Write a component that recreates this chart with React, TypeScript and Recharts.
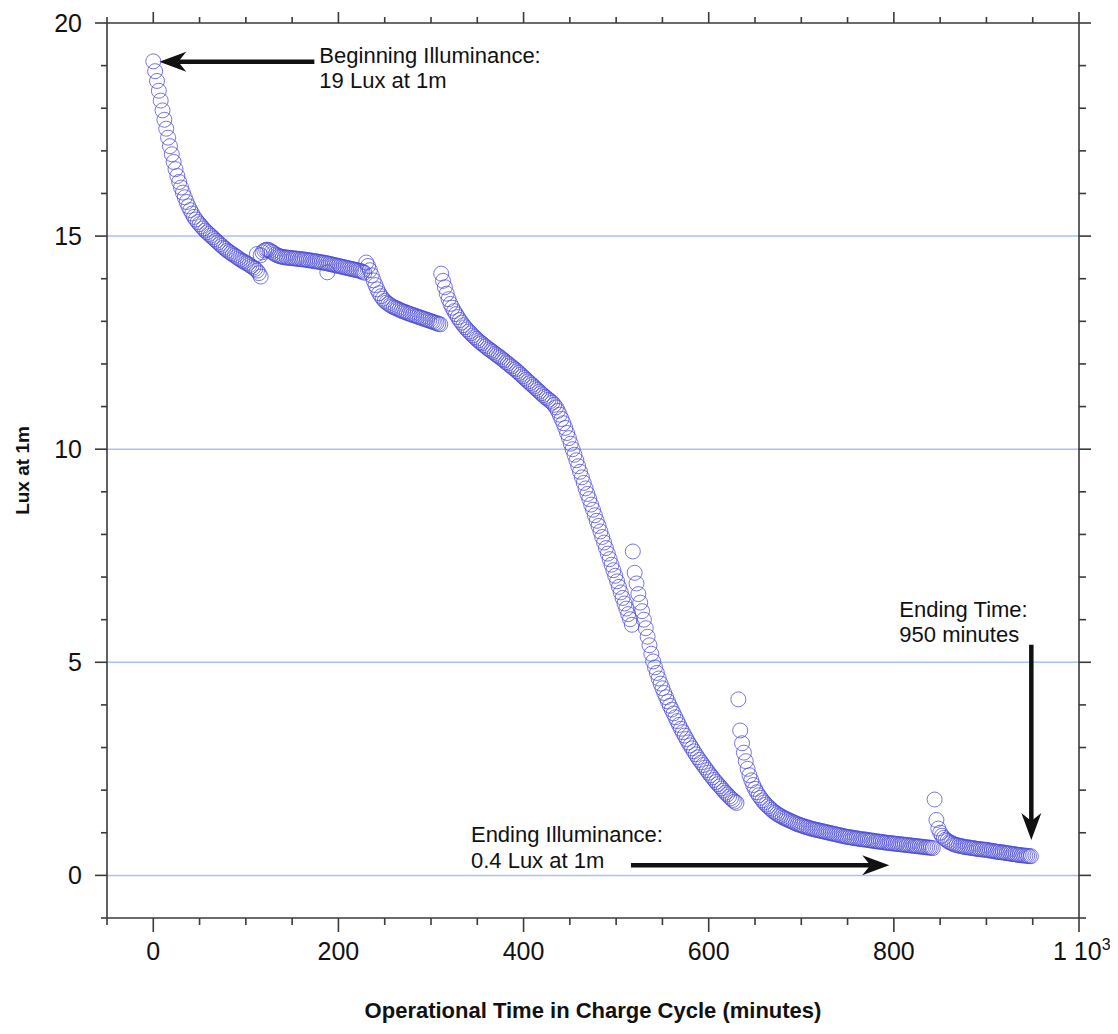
import React from "react";
import {
  ScatterChart,
  Scatter,
  XAxis,
  YAxis,
  ReferenceLine,
  Label,
} from "recharts";

// readings every 2 minutes, split where the lamp output jumps back up
const STEP = 2;

const fallA = [
  19.1, 18.87, 18.64, 18.41, 18.18, 17.95, 17.73, 17.52, 17.31, 17.11, 16.92,
  16.74, 16.57, 16.41, 16.27, 16.14, 16.02, 15.91, 15.8, 15.7, 15.61, 15.53,
  15.45, 15.39, 15.33, 15.28, 15.23, 15.18, 15.13, 15.09, 15.05, 15.01, 14.97,
  14.93, 14.89, 14.85, 14.81, 14.77, 14.73, 14.7, 14.66, 14.63, 14.6, 14.57,
  14.54, 14.51, 14.48, 14.45, 14.42, 14.4, 14.37, 14.35, 14.32, 14.29, 14.26,
  14.23, 14.19, 14.13,
];
const plateauB = [
  14.55, 14.62, 14.66, 14.68, 14.68, 14.66, 14.63, 14.6, 14.57, 14.55, 14.53,
  14.52, 14.51, 14.5, 14.5, 14.49, 14.49, 14.48, 14.48, 14.47, 14.47, 14.46,
  14.46, 14.45, 14.45, 14.44, 14.43, 14.43, 14.42, 14.41, 14.41, 14.4, 14.39,
  14.38, 14.38, 14.37, 14.36, 14.35, 14.34, 14.33, 14.32, 14.31, 14.3, 14.29,
  14.28, 14.27, 14.26, 14.25, 14.24, 14.23, 14.22, 14.21, 14.2, 14.19, 14.18,
  14.16, 14.14,
];
const stepC = [
  14.38, 14.3, 14.2, 14.08, 13.96, 13.85, 13.75, 13.66, 13.59, 13.53, 13.48,
  13.44, 13.41, 13.38, 13.35, 13.33, 13.31, 13.29, 13.27, 13.25, 13.23, 13.22,
  13.2, 13.18, 13.17, 13.15, 13.14, 13.12, 13.11, 13.09, 13.08, 13.06, 13.05,
  13.03, 13.02, 13.0, 12.99, 12.97, 12.96, 12.94, 12.93,
];
const dropD = [
  14.12, 13.95, 13.8, 13.65, 13.52, 13.41, 13.32, 13.24, 13.17, 13.1, 13.03,
  12.97, 12.91, 12.86, 12.81, 12.76, 12.72, 12.67, 12.63, 12.59, 12.55, 12.51,
  12.48, 12.44, 12.41, 12.37, 12.34, 12.31, 12.28, 12.24, 12.21, 12.18, 12.15,
  12.11, 12.08, 12.04, 12.01, 11.97, 11.94, 11.9, 11.87, 11.83, 11.79, 11.75,
  11.71, 11.67, 11.63, 11.59, 11.55, 11.51, 11.47, 11.43, 11.39, 11.35, 11.31,
  11.27, 11.23, 11.2, 11.16, 11.13, 11.09, 11.04, 10.98, 10.9, 10.81, 10.71,
  10.61, 10.5, 10.38, 10.26, 10.13, 10.0, 9.87, 9.74, 9.6, 9.47, 9.34, 9.21,
  9.08, 8.95, 8.83, 8.7, 8.58, 8.45, 8.32, 8.2, 8.07, 7.94, 7.81, 7.68, 7.55,
  7.42, 7.29, 7.16, 7.03, 6.9, 6.77, 6.64, 6.51, 6.38, 6.26, 6.13, 6.01, 5.88,
];
const tailE = [
  7.6, 7.1, 6.85, 6.6, 6.4, 6.2, 6.0, 5.8, 5.6, 5.4, 5.2, 5.02, 4.88, 4.75,
  4.62, 4.5, 4.39, 4.28, 4.18, 4.08, 3.98, 3.89, 3.8, 3.71, 3.62, 3.53, 3.44,
  3.36, 3.28, 3.2, 3.12, 3.05, 2.98, 2.91, 2.84, 2.77, 2.71, 2.65, 2.59, 2.53,
  2.47, 2.41, 2.35, 2.3, 2.24, 2.19, 2.14, 2.09, 2.04, 1.99, 1.94, 1.9, 1.85,
  1.81, 1.77, 1.73, 1.7,
];
const tailF = [
  4.13, 3.4, 3.1, 2.88, 2.68, 2.5, 2.35, 2.23, 2.12, 2.03, 1.95, 1.88, 1.82,
  1.76, 1.71, 1.66, 1.62, 1.58, 1.54, 1.5, 1.47, 1.44, 1.41, 1.39, 1.36, 1.34,
  1.32, 1.3, 1.28, 1.26, 1.24, 1.22, 1.2, 1.19, 1.17, 1.16, 1.14, 1.13, 1.12,
  1.1, 1.09, 1.08, 1.07, 1.06, 1.05, 1.04, 1.03, 1.02, 1.01, 1.0, 0.99, 0.98,
  0.97, 0.96, 0.95, 0.94, 0.93, 0.92, 0.91, 0.9, 0.9, 0.89, 0.88, 0.87, 0.87,
  0.86, 0.85, 0.85, 0.84, 0.84, 0.83, 0.82, 0.82, 0.81, 0.8, 0.8, 0.79, 0.79,
  0.78, 0.77, 0.77, 0.76, 0.76, 0.75, 0.75, 0.74, 0.74, 0.73, 0.73, 0.72, 0.72,
  0.71, 0.71, 0.7, 0.7, 0.69, 0.69, 0.68, 0.68, 0.67, 0.67, 0.66, 0.66, 0.65,
  0.65, 0.64,
];
const tailG = [
  1.78, 1.3, 1.1, 1.0, 0.93, 0.88, 0.84, 0.81, 0.78, 0.76, 0.74, 0.72, 0.71,
  0.7, 0.69, 0.68, 0.67, 0.66, 0.66, 0.65, 0.64, 0.64, 0.63, 0.62, 0.62, 0.61,
  0.61, 0.6, 0.6, 0.59, 0.58, 0.58, 0.57, 0.56, 0.55, 0.55, 0.54, 0.54, 0.53,
  0.52, 0.52, 0.51, 0.5, 0.5, 0.49, 0.48, 0.48, 0.47, 0.47, 0.46, 0.46, 0.45,
  0.45,
];
const segmentStarts = [0, 116, 230, 311, 518, 632, 844];
const segmentValues = [fallA, plateauB, stepC, dropD, tailE, tailF, tailG];

// a few stray readings
const strayMinutes = [112, 116, 188];
const strayLux = [14.58, 14.05, 14.15];

const xTicks = [
  -50, 0, 50, 100, 150, 200, 250, 300, 350, 400, 450, 500, 550, 600, 650, 700,
  750, 800, 850, 900, 950, 1000,
];
const xLabelTicks = [0, 200, 400, 600, 800, 1000];
const yTicks = [
  -1, 0, 1, 2, 3, 4, 5, 6, 7, 8, 9, 10, 11, 12, 13, 14, 15, 16, 17, 18, 19, 20,
];
const yLabelTicks = [0, 5, 10, 15, 20];
const gridValues = [0, 5, 10, 15];

const data: { x: number; y: number }[] = [];
segmentValues.forEach((vals, s) => {
  vals.forEach((v, i) => data.push({ x: segmentStarts[s] + i * STEP, y: v }));
});
strayMinutes.forEach((m, i) => data.push({ x: m, y: strayLux[i] }));

const FRAME = "#3a3a3a";
const FONT = "'Liberation Sans', Arial, Helvetica, sans-serif";

function BottomTick({ x, y, payload }: any) {
  const v = payload.value;
  const major = xLabelTicks.includes(v);
  return (
    <g>
      <line x1={x} x2={x} y1={y} y2={y + (major ? 14 : 7)} stroke={FRAME} strokeWidth={1.6} />
      {major && v !== 1000 && (
        <text x={x} y={y + 42} textAnchor="middle" fontSize={25} fill="#111">
          {v}
        </text>
      )}
      {v === 1000 && (
        <text x={x - 26} y={y + 42} fontSize={25} fill="#111">
          1 10
          <tspan dy={-10} fontSize={16}>
            3
          </tspan>
        </text>
      )}
    </g>
  );
}

function TopTick({ x, y, payload }: any) {
  const major = xLabelTicks.includes(payload.value);
  return <line x1={x} x2={x} y1={y} y2={y - (major ? 11 : 6)} stroke={FRAME} strokeWidth={1.6} />;
}

function LeftTick({ x, y, payload }: any) {
  const v = payload.value;
  const major = yLabelTicks.includes(v);
  return (
    <g>
      <line x1={x} x2={x - (major ? 12 : 6)} y1={y} y2={y} stroke={FRAME} strokeWidth={1.6} />
      {major && (
        <text x={x - 25} y={y + 9} textAnchor="end" fontSize={25} fill="#111">
          {v}
        </text>
      )}
    </g>
  );
}

function RightTick({ x, y, payload }: any) {
  const major = yLabelTicks.includes(payload.value);
  return <line x1={x} x2={x + (major ? 12 : 7)} y1={y} y2={y} stroke={FRAME} strokeWidth={1.6} />;
}

// arrow drawn tail (x1,y1) -> tip (x2,y2), two text lines placed relative to the tail
function Arrow(props: any) {
  const { x1, y1, x2, y2, lines, tx, ty } = props;
  const dx = x2 - x1;
  const dy = y2 - y1;
  const len = Math.sqrt(dx * dx + dy * dy) || 1;
  const ux = dx / len;
  const uy = dy / len;
  const nx = -uy;
  const ny = ux;
  const L = 27;
  const W = 10;
  const bx = x2 - ux * L;
  const by = y2 - uy * L;
  const mx = x2 - ux * L * 0.7;
  const my = y2 - uy * L * 0.7;
  const head = `${x2},${y2} ${bx + nx * W},${by + ny * W} ${mx},${my} ${bx - nx * W},${by - ny * W}`;
  return (
    <g>
      <line x1={x1} y1={y1} x2={mx} y2={my} stroke="#111" strokeWidth={4.5} />
      <polygon points={head} fill="#111" />
      {lines.map((t: string, i: number) => (
        <text key={i} x={x1 + tx} y={y1 + ty + i * 25.5} fontSize={22} fill="#111">
          {t}
        </text>
      ))}
    </g>
  );
}

export default function App() {
  return (
    <div style={{ width: 1110, height: 1026, fontFamily: FONT }}>
      <ScatterChart
        width={1110}
        height={1026}
        margin={{ top: 0, right: 0, bottom: 0, left: 0 }}
        style={{ fontFamily: FONT }}
      >
        <XAxis
          xAxisId="b"
          type="number"
          dataKey="x"
          domain={[-50, 1000]}
          ticks={xTicks}
          interval={0}
          height={116}
          tickLine={false}
          tickSize={0}
          tickMargin={0}
          tick={BottomTick}
          axisLine={{ stroke: FRAME, strokeWidth: 1.6 }}
          allowDataOverflow
        >
          <Label
            content={({ viewBox }: any) => (
              <text
                x={viewBox.x + viewBox.width / 2}
                y={viewBox.y + 100}
                textAnchor="middle"
                fontSize={22}
                fontWeight="bold"
                fill="#111"
              >
                Operational Time in Charge Cycle (minutes)
              </text>
            )}
          />
        </XAxis>
        <XAxis
          xAxisId="t"
          orientation="top"
          type="number"
          dataKey="x"
          domain={[-50, 1000]}
          ticks={xTicks}
          interval={0}
          height={15}
          tickLine={false}
          tickSize={0}
          tickMargin={0}
          tick={TopTick}
          axisLine={{ stroke: FRAME, strokeWidth: 1.6 }}
          allowDataOverflow
        />
        <YAxis
          yAxisId="l"
          type="number"
          dataKey="y"
          domain={[-1, 20]}
          ticks={yTicks}
          interval={0}
          width={99}
          tickLine={false}
          tickSize={0}
          tickMargin={0}
          tick={LeftTick}
          axisLine={{ stroke: FRAME, strokeWidth: 1.6 }}
          allowDataOverflow
        >
          <Label
            content={({ viewBox }: any) => {
              const cx = 21;
              const cy = viewBox.y + viewBox.height / 2;
              return (
                <text
                  x={cx}
                  y={cy}
                  transform={`rotate(-90 ${cx} ${cy})`}
                  textAnchor="middle"
                  fontSize={19}
                  fontWeight="bold"
                  fill="#111"
                >
                  Lux at 1m
                </text>
              );
            }}
          />
        </YAxis>
        <YAxis
          yAxisId="r"
          orientation="right"
          type="number"
          dataKey="y"
          domain={[-1, 20]}
          ticks={yTicks}
          interval={0}
          width={39}
          tickLine={false}
          tickSize={0}
          tickMargin={0}
          tick={RightTick}
          axisLine={{ stroke: FRAME, strokeWidth: 1.6 }}
          allowDataOverflow
        />
        {gridValues.map((v) => (
          <ReferenceLine
            key={v}
            xAxisId="b"
            yAxisId="l"
            y={v}
            stroke="#a9c2f2"
            strokeWidth={1.5}
          />
        ))}
        <Scatter
          xAxisId="b"
          yAxisId="l"
          data={data}
          isAnimationActive={false}
          shape={(p: any) => (
            <circle
              cx={p.cx}
              cy={p.cy}
              r={7.5}
              fill="none"
              stroke="#4a4ad4"
              strokeOpacity={0.75}
              strokeWidth={1}
            />
          )}
        />
        <ReferenceLine
          xAxisId="b"
          yAxisId="l"
          segment={[
            { x: 174, y: 19.09 },
            { x: 6.5, y: 19.09 },
          ]}
          shape={(p: any) => (
            <Arrow {...p} lines={["Beginning Illuminance:", "19 Lux at 1m"]} tx={5} ty={1} />
          )}
        />
        <ReferenceLine
          xAxisId="b"
          yAxisId="l"
          segment={[
            { x: 516, y: 0.24 },
            { x: 795, y: 0.24 },
          ]}
          shape={(p: any) => (
            <Arrow {...p} lines={["Ending Illuminance:", "0.4 Lux at 1m"]} tx={-160} ty={-23} />
          )}
        />
        <ReferenceLine
          xAxisId="b"
          yAxisId="l"
          segment={[
            { x: 948.5, y: 5.41 },
            { x: 948.5, y: 0.83 },
          ]}
          shape={(p: any) => (
            <Arrow {...p} lines={["Ending Time:", "950 minutes"]} tx={-132} ty={-28} />
          )}
        />
      </ScatterChart>
    </div>
  );
}
